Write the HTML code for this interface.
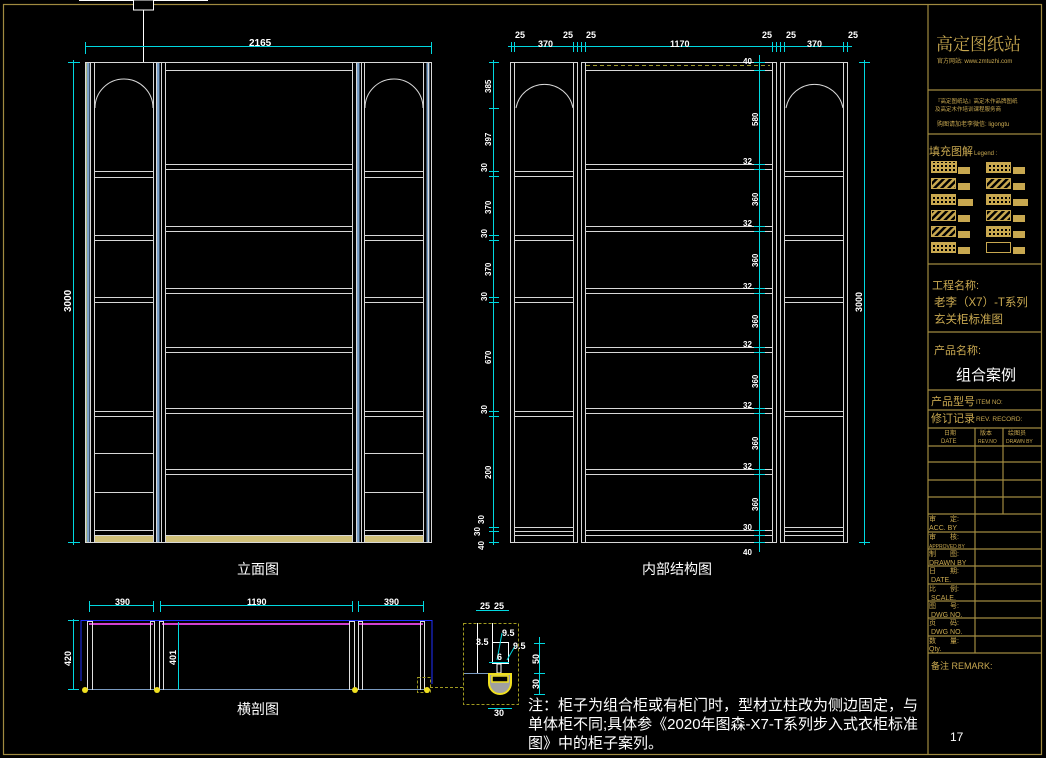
<!DOCTYPE html>
<html><head><meta charset="utf-8"><style>
html,body{margin:0;padding:0;background:#000;}
svg{display:block;}
text{font-family:"Liberation Sans","Noto Sans CJK SC",sans-serif;}
.cj{font-family:"Liberation Serif","Noto Serif CJK SC",serif;}
</style></head><body>
<svg width="1046" height="758" viewBox="0 0 1046 758" xmlns="http://www.w3.org/2000/svg">
<defs>
<pattern id="hat" width="5" height="5" patternUnits="userSpaceOnUse" patternTransform="rotate(45)"><rect width="5" height="5" fill="#000"/><rect width="2.5" height="5" fill="#c8a850"/></pattern>
<pattern id="dot" width="4" height="4" patternUnits="userSpaceOnUse"><rect width="4" height="4" fill="#c8a850"/><rect x="1" y="1" width="2" height="2" fill="#000"/></pattern>
</defs>
<rect width="1046" height="758" fill="#000"/>
<g stroke="#a08a40" stroke-width="1.2" fill="none">
<rect x="3.5" y="4.5" width="1038" height="750"/>
<line x1="928" y1="4" x2="928" y2="755"/>
<line x1="928" y1="90" x2="1042" y2="90"/>
<line x1="928" y1="134" x2="1042" y2="134"/>
<line x1="928" y1="264" x2="1042" y2="264"/>
<line x1="928" y1="332" x2="1042" y2="332"/>
<line x1="928" y1="390" x2="1042" y2="390"/>
<line x1="928" y1="410" x2="1042" y2="410"/>
<line x1="928" y1="428" x2="1042" y2="428"/>
<line x1="928" y1="446" x2="1042" y2="446"/>
<line x1="928" y1="462" x2="1042" y2="462"/>
<line x1="928" y1="480" x2="1042" y2="480"/>
<line x1="928" y1="497" x2="1042" y2="497"/>
<line x1="928" y1="514" x2="1042" y2="514"/>
<line x1="928" y1="532" x2="1042" y2="532"/>
<line x1="928" y1="549" x2="1042" y2="549"/>
<line x1="928" y1="566" x2="1042" y2="566"/>
<line x1="928" y1="584" x2="1042" y2="584"/>
<line x1="928" y1="601" x2="1042" y2="601"/>
<line x1="928" y1="618" x2="1042" y2="618"/>
<line x1="928" y1="636" x2="1042" y2="636"/>
<line x1="928" y1="653" x2="1042" y2="653"/>
<line x1="975" y1="428" x2="975" y2="653"/>
<line x1="1003" y1="428" x2="1003" y2="514"/>
</g>
<g fill="#c8a850" class="cj">
<text x="936" y="50" font-size="17" class="cj">高定图纸站</text>
<text x="937" y="63" font-size="6">官方网站: www.zmtuzhi.com</text>
<text x="935" y="103" font-size="5.5">『高定图纸站』高定木作品牌图纸</text>
<text x="935" y="111" font-size="5.5">及高定木作培训课程服务商</text>
<text x="937" y="126" font-size="6">购图请加老李微信: ligongtu</text>
<text x="929" y="155" font-size="11">填充图解</text><text x="974" y="155" font-size="6">Legend :</text>
<text x="932" y="289" font-size="11">工程名称:</text>
<text x="934" y="306" font-size="11.5">老李（X7）-T系列</text>
<text x="934" y="323" font-size="11.5">玄关柜标准图</text>
<text x="934" y="354" font-size="11">产品名称:</text>
<text x="931" y="405" font-size="11">产品型号</text><text x="976" y="404" font-size="6">ITEM NO:</text>
<text x="931" y="422" font-size="11">修订记录</text><text x="976" y="421" font-size="6.5">REV. RECORD:</text>
<text x="944" y="435" font-size="6">日期</text><text x="941" y="443" font-size="6">DATE</text>
<text x="980" y="435" font-size="6">版本</text><text x="978" y="443" font-size="5">REV.NO</text>
<text x="1008" y="435" font-size="6">绘图员</text><text x="1006" y="443" font-size="5">DRAWN BY</text>
<g font-size="7">
<text x="929" y="521">审　　定:</text><text x="929" y="530">ACC. BY</text>
<text x="929" y="539">审　　核:</text><text x="929" y="548" font-size="5">APPROVED BY</text>
<text x="929" y="556">制　　图:</text><text x="929" y="565">DRAWN BY</text>
<text x="929" y="573">日　　期:</text><text x="931" y="582">DATE.</text>
<text x="929" y="591">比　　例:</text><text x="931" y="600">SCALE.</text>
<text x="929" y="608">图　　号:</text><text x="931" y="617">DWG  NO.</text>
<text x="929" y="625">页　　码:</text><text x="931" y="634">DWG  NO.</text>
<text x="929" y="643">数　　量:</text><text x="929" y="651">Qty.</text>
</g>
<text x="931" y="669" font-size="9">备注 REMARK:</text>
</g>
<text x="956" y="380" font-size="15" fill="#fff">组合案例</text>
<text x="950" y="741" font-size="12" fill="#fff">17</text>
<g stroke="#c8a850" stroke-width="1">
<rect x="931.5" y="161.5" width="25" height="11" fill="url(#dot)"/>
<rect x="931.5" y="178.5" width="24" height="10" fill="url(#hat)"/>
<rect x="931.5" y="194.5" width="24" height="10" fill="url(#dot)"/>
<rect x="931.5" y="210.5" width="24" height="10" fill="url(#hat)"/>
<rect x="931.5" y="226.5" width="24" height="10" fill="url(#hat)"/>
<rect x="931.5" y="242.5" width="24" height="10" fill="url(#dot)"/>
<rect x="986.5" y="162.5" width="24" height="10" fill="url(#dot)"/>
<rect x="986.5" y="178.5" width="24" height="10" fill="url(#hat)"/>
<rect x="986.5" y="194.5" width="24" height="10" fill="url(#dot)"/>
<rect x="986.5" y="210.5" width="24" height="10" fill="url(#hat)"/>
<rect x="986.5" y="226.5" width="24" height="10" fill="url(#dot)"/>
<rect x="986.5" y="242.5" width="24" height="10" fill="#000"/>
</g>
<g fill="#c8a850">
<rect x="958" y="167" width="12" height="7"/><rect x="958" y="183" width="12" height="7"/><rect x="958" y="199" width="15" height="7"/><rect x="958" y="215" width="12" height="7"/><rect x="958" y="231" width="12" height="7"/><rect x="958" y="247" width="12" height="7"/>
<rect x="1013" y="167" width="12" height="7"/><rect x="1013" y="183" width="12" height="7"/><rect x="1013" y="199" width="15" height="7"/><rect x="1013" y="215" width="12" height="7"/><rect x="1013" y="231" width="12" height="7"/><rect x="1013" y="247" width="12" height="7"/>
</g>

<g stroke="#fff" stroke-width="1" fill="none">
<line x1="79" y1="0.5" x2="208" y2="0.5"/>
<rect x="133.5" y="0" width="20" height="10" fill="#000"/>
<line x1="143.5" y1="10" x2="143.5" y2="63"/>
</g>

<g stroke="#7aa0c8" stroke-width="3"><line x1="88" y1="62" x2="88" y2="542"/><line x1="428" y1="62" x2="428" y2="542"/><line x1="158" y1="62" x2="158" y2="542"/><line x1="358" y1="62" x2="358" y2="542"/></g>
<line x1="86" y1="62" x2="86" y2="542" stroke="#d8d040"/>
<g fill="#d0c078"><rect x="95" y="535" width="58" height="7"/><rect x="166" y="535" width="186" height="7"/><rect x="365" y="535" width="58" height="7"/></g>
<g stroke="#d8d8d8" stroke-width="1" fill="none">
<line x1="85" y1="62.5" x2="432" y2="62.5"/>
<line x1="85" y1="542.5" x2="432" y2="542.5"/>
<line x1="85.5" y1="62" x2="85.5" y2="542"/><line x1="90.5" y1="62" x2="90.5" y2="542"/><line x1="94.5" y1="62" x2="94.5" y2="542"/>
<line x1="153.5" y1="62" x2="153.5" y2="542"/><line x1="156.5" y1="62" x2="156.5" y2="542"/><line x1="161.5" y1="62" x2="161.5" y2="542"/><line x1="165.5" y1="62" x2="165.5" y2="542"/>
<line x1="352.5" y1="62" x2="352.5" y2="542"/><line x1="356.5" y1="62" x2="356.5" y2="542"/><line x1="361.5" y1="62" x2="361.5" y2="542"/><line x1="364.5" y1="62" x2="364.5" y2="542"/>
<line x1="423.5" y1="62" x2="423.5" y2="542"/><line x1="428.5" y1="62" x2="428.5" y2="542"/><line x1="431.5" y1="62" x2="431.5" y2="542"/>
<path d="M95,108 A29,29 0 0 1 153,108"/><path d="M365,108 A29,29 0 0 1 423,108"/>
<line x1="165" y1="70.5" x2="352" y2="70.5"/>
<g id="cs">
<line x1="165" y1="164.5" x2="352" y2="164.5"/><line x1="165" y1="169.5" x2="352" y2="169.5"/>
<line x1="165" y1="226.5" x2="352" y2="226.5"/><line x1="165" y1="231.5" x2="352" y2="231.5"/>
<line x1="165" y1="288.5" x2="352" y2="288.5"/><line x1="165" y1="293.5" x2="352" y2="293.5"/>
<line x1="165" y1="347.5" x2="352" y2="347.5"/><line x1="165" y1="352.5" x2="352" y2="352.5"/>
<line x1="165" y1="408.5" x2="352" y2="408.5"/><line x1="165" y1="413.5" x2="352" y2="413.5"/>
<line x1="165" y1="469.5" x2="352" y2="469.5"/><line x1="165" y1="474.5" x2="352" y2="474.5"/>
<line x1="165" y1="535.5" x2="352" y2="535.5"/>
</g>
<g id="ls">
<line x1="94" y1="171.5" x2="153" y2="171.5"/><line x1="94" y1="177.5" x2="153" y2="177.5"/>
<line x1="94" y1="235.5" x2="153" y2="235.5"/><line x1="94" y1="240.5" x2="153" y2="240.5"/>
<line x1="94" y1="297.5" x2="153" y2="297.5"/><line x1="94" y1="302.5" x2="153" y2="302.5"/>
<line x1="94" y1="411.5" x2="153" y2="411.5"/><line x1="94" y1="416.5" x2="153" y2="416.5"/>
<line x1="94" y1="453.5" x2="153" y2="453.5"/>
<line x1="94" y1="492.5" x2="153" y2="492.5"/>
<line x1="94" y1="530.5" x2="153" y2="530.5"/><line x1="94" y1="535.5" x2="153" y2="535.5"/>
</g>
<use href="#ls" transform="translate(270,0)"/>
</g>
<g stroke="#00d8e0" stroke-width="1">
<line x1="85" y1="46.5" x2="432" y2="46.5"/><line x1="85.5" y1="42" x2="85.5" y2="54"/><line x1="431.5" y1="42" x2="431.5" y2="54"/>
<line x1="73.5" y1="60" x2="73.5" y2="545"/><line x1="68" y1="62.5" x2="80" y2="62.5"/><line x1="68" y1="542.5" x2="80" y2="542.5"/>
</g>
<g fill="#fff" font-size="10" font-weight="bold">
<text x="249" y="46">2165</text>
<text transform="translate(71,312) rotate(-90)">3000</text>
</g>
<g fill="#fff" font-size="14">
<text x="237" y="574">立面图</text>
<text x="642" y="574">内部结构图</text>
<text x="237" y="714">横剖图</text>
</g>

<g stroke="#d8d8d8" stroke-width="1" fill="none">
<rect x="510.5" y="62.5" width="67" height="480"/><line x1="514.5" y1="62" x2="514.5" y2="542"/><line x1="573.5" y1="62" x2="573.5" y2="542"/>
<rect x="581.5" y="62.5" width="195" height="480"/><line x1="585.5" y1="62" x2="585.5" y2="542"/><line x1="772.5" y1="62" x2="772.5" y2="542"/>
<rect x="780.5" y="62.5" width="67" height="480"/><line x1="784.5" y1="62" x2="784.5" y2="542"/><line x1="843.5" y1="62" x2="843.5" y2="542"/>
<path d="M516,108 A29,29 0 0 1 573,108"/><path d="M786,108 A29,29 0 0 1 843,108"/>
<line x1="585" y1="70.5" x2="772" y2="70.5"/>
<g transform="translate(420,0)"><use href="#cs"/></g>
<g transform="translate(420,0)"><line x1="165" y1="530.5" x2="352" y2="530.5"/></g>
<g id="il">
<line x1="514" y1="171.5" x2="573" y2="171.5"/><line x1="514" y1="176.5" x2="573" y2="176.5"/>
<line x1="514" y1="235.5" x2="573" y2="235.5"/><line x1="514" y1="240.5" x2="573" y2="240.5"/>
<line x1="514" y1="297.5" x2="573" y2="297.5"/><line x1="514" y1="302.5" x2="573" y2="302.5"/>
<line x1="514" y1="411.5" x2="573" y2="411.5"/><line x1="514" y1="416.5" x2="573" y2="416.5"/>
<line x1="514" y1="527.5" x2="573" y2="527.5"/><line x1="514" y1="531.5" x2="573" y2="531.5"/><line x1="514" y1="535.5" x2="573" y2="535.5"/>
</g>
<use href="#il" transform="translate(270,0)"/>
</g>
<line x1="586" y1="65.5" x2="770" y2="65.5" stroke="#a09a30" stroke-dasharray="4,3"/>
<g stroke="#00d8e0" stroke-width="1">
<line x1="508" y1="46.5" x2="852" y2="46.5"/>
<line x1="493.5" y1="60" x2="493.5" y2="545"/>
<line x1="759.5" y1="55" x2="759.5" y2="552"/>
<line x1="864.5" y1="60" x2="864.5" y2="545"/>
<g><line x1="489" y1="62.5" x2="499" y2="62.5"/><line x1="489" y1="108.5" x2="499" y2="108.5"/><line x1="489" y1="171.5" x2="499" y2="171.5"/><line x1="489" y1="176.5" x2="499" y2="176.5"/><line x1="489" y1="235.5" x2="499" y2="235.5"/><line x1="489" y1="240.5" x2="499" y2="240.5"/><line x1="489" y1="297.5" x2="499" y2="297.5"/><line x1="489" y1="302.5" x2="499" y2="302.5"/><line x1="489" y1="411.5" x2="499" y2="411.5"/><line x1="489" y1="416.5" x2="499" y2="416.5"/><line x1="489" y1="527.5" x2="499" y2="527.5"/><line x1="489" y1="531.5" x2="499" y2="531.5"/><line x1="489" y1="542.5" x2="499" y2="542.5"/></g>
<line x1="754" y1="62.5" x2="765" y2="62.5"/><line x1="754" y1="70.5" x2="765" y2="70.5"/>
<line x1="754" y1="164.5" x2="765" y2="164.5"/><line x1="754" y1="169.5" x2="765" y2="169.5"/>
<line x1="754" y1="226.5" x2="765" y2="226.5"/><line x1="754" y1="231.5" x2="765" y2="231.5"/>
<line x1="754" y1="288.5" x2="765" y2="288.5"/><line x1="754" y1="293.5" x2="765" y2="293.5"/>
<line x1="754" y1="347.5" x2="765" y2="347.5"/><line x1="754" y1="352.5" x2="765" y2="352.5"/>
<line x1="754" y1="408.5" x2="765" y2="408.5"/><line x1="754" y1="413.5" x2="765" y2="413.5"/>
<line x1="754" y1="469.5" x2="765" y2="469.5"/><line x1="754" y1="474.5" x2="765" y2="474.5"/>
<line x1="754" y1="530.5" x2="765" y2="530.5"/><line x1="754" y1="535.5" x2="765" y2="535.5"/><line x1="754" y1="542.5" x2="765" y2="542.5"/>
<line x1="859" y1="62.5" x2="870" y2="62.5"/><line x1="859" y1="542.5" x2="870" y2="542.5"/>
<g><line x1="511.5" y1="42" x2="511.5" y2="52"/><line x1="514.5" y1="42" x2="514.5" y2="52"/><line x1="573.5" y1="42" x2="573.5" y2="52"/><line x1="577.5" y1="42" x2="577.5" y2="52"/><line x1="581.5" y1="42" x2="581.5" y2="52"/><line x1="585.5" y1="42" x2="585.5" y2="52"/><line x1="772.5" y1="42" x2="772.5" y2="52"/><line x1="776.5" y1="42" x2="776.5" y2="52"/><line x1="780.5" y1="42" x2="780.5" y2="52"/><line x1="784.5" y1="42" x2="784.5" y2="52"/><line x1="843.5" y1="42" x2="843.5" y2="52"/><line x1="847.5" y1="42" x2="847.5" y2="52"/></g>
</g>
<g fill="#fff" font-size="9" font-weight="bold">
<text x="515" y="38">25</text><text x="538" y="47">370</text><text x="563" y="38">25</text><text x="586" y="38">25</text><text x="670" y="47">1170</text><text x="762" y="38">25</text><text x="786" y="38">25</text><text x="807" y="47">370</text><text x="848" y="38">25</text>
<g font-size="8">
<text transform="translate(491,93) rotate(-90)">385</text>
<text transform="translate(491,146) rotate(-90)">397</text>
<text transform="translate(487,172) rotate(-90)">30</text>
<text transform="translate(491,214) rotate(-90)">370</text>
<text transform="translate(487,238) rotate(-90)">30</text>
<text transform="translate(491,276) rotate(-90)">370</text>
<text transform="translate(487,301) rotate(-90)">30</text>
<text transform="translate(491,364) rotate(-90)">670</text>
<text transform="translate(487,414) rotate(-90)">30</text>
<text transform="translate(491,479) rotate(-90)">200</text>
<text transform="translate(484,524) rotate(-90)">30</text>
<text transform="translate(480,536) rotate(-90)">30</text>
<text transform="translate(484,550) rotate(-90)">40</text>
<text x="743" y="64">40</text>
<text transform="translate(758,126) rotate(-90)">580</text>
<text x="743" y="164">32</text><text transform="translate(758,206) rotate(-90)">360</text>
<text x="743" y="226">32</text><text transform="translate(758,267) rotate(-90)">360</text>
<text x="743" y="289">32</text><text transform="translate(758,328) rotate(-90)">360</text>
<text x="743" y="347">32</text><text transform="translate(758,388) rotate(-90)">360</text>
<text x="743" y="408">32</text><text transform="translate(758,450) rotate(-90)">360</text>
<text x="743" y="469">32</text><text transform="translate(758,511) rotate(-90)">360</text>
<text x="743" y="530">30</text><text x="743" y="555">40</text>
</g>
<text transform="translate(862,312) rotate(-90)">3000</text>
</g>

<g fill="none" stroke-width="1">
<path d="M81,681 V620.5 H432 V684" stroke="#2030ff"/>
<line x1="85" y1="689.5" x2="430" y2="689.5" stroke="#7a9ac0"/>
<g stroke="#d040d0" stroke-width="2"><line x1="89" y1="624" x2="153" y2="624"/><line x1="162" y1="624" x2="349" y2="624"/><line x1="359" y1="624" x2="423" y2="624"/></g>
<g stroke="#e0e0e0">
<path d="M87.5,690 V621.5 H92.5 V690"/><path d="M150.5,690 V621.5 H154.5 V690"/><path d="M159.5,690 V621.5 H163.5 V690"/><path d="M349.5,690 V621.5 H354.5 V690"/><path d="M358.5,690 V621.5 H362.5 V690"/><path d="M420.5,690 V621.5 H424.5 V690"/>
</g>
<g stroke="#00d8e0"><line x1="89" y1="605.5" x2="153" y2="605.5"/><line x1="160" y1="605.5" x2="352" y2="605.5"/><line x1="358" y1="605.5" x2="423" y2="605.5"/>
<line x1="73.5" y1="619" x2="73.5" y2="690"/><line x1="178.5" y1="622" x2="178.5" y2="690"/>
<line x1="89.5" y1="601" x2="89.5" y2="612"/><line x1="153.5" y1="601" x2="153.5" y2="612"/><line x1="160.5" y1="601" x2="160.5" y2="612"/><line x1="352.5" y1="601" x2="352.5" y2="612"/><line x1="358.5" y1="601" x2="358.5" y2="612"/><line x1="423.5" y1="601" x2="423.5" y2="612"/>
<line x1="68" y1="620.5" x2="79" y2="620.5"/><line x1="68" y1="689.5" x2="79" y2="689.5"/>
</g>
<g stroke="#a09a20" stroke-dasharray="3,2"><rect x="417.5" y="677.5" width="13" height="15"/><line x1="430" y1="687.5" x2="464" y2="687.5"/><rect x="463.5" y="623.5" width="55" height="81"/></g>
<line x1="464" y1="673.5" x2="490" y2="673.5" stroke="#7a9ac0"/>
<g stroke="#fff"><line x1="477.5" y1="623" x2="477.5" y2="673"/><line x1="492.5" y1="623" x2="492.5" y2="643"/><rect x="492.5" y="642.5" width="16" height="21"/><rect x="497" y="664" width="4" height="9"/></g>
<path d="M489,674 H511 V683 A11,11 0 0 1 489,683 Z" fill="#a0a0a0" stroke="#f0e020" stroke-width="2"/>
<rect x="492" y="676" width="16" height="6" fill="#000" stroke="#f0e020" stroke-width="1.5"/>
<g stroke="#00d8e0"><line x1="476" y1="610.5" x2="509" y2="610.5"/><line x1="539.5" y1="637" x2="539.5" y2="694"/><line x1="534" y1="643.5" x2="545" y2="643.5"/><line x1="534" y1="673.5" x2="545" y2="673.5"/><line x1="534" y1="694.5" x2="545" y2="694.5"/><line x1="488" y1="708.5" x2="512" y2="708.5"/><line x1="489" y1="662.5" x2="509" y2="662.5"/><line x1="502" y1="633" x2="497" y2="660"/><line x1="515" y1="646" x2="507" y2="660"/></g>
</g>
<g fill="#f0e020"><circle cx="85" cy="690" r="3"/><circle cx="157" cy="690" r="3"/><circle cx="355" cy="690" r="3"/><circle cx="427" cy="690" r="3"/></g>
<g fill="#fff" font-size="9" font-weight="bold">
<text x="115" y="605">390</text><text x="247" y="605">1190</text><text x="384" y="605">390</text>
<text transform="translate(71,666) rotate(-90)">420</text><text transform="translate(176,665) rotate(-90)">401</text>
<text x="480" y="609">25</text><text x="494" y="609">25</text>
<text x="476" y="645">3.5</text><text x="502" y="636">9.5</text><text x="513" y="649">9.5</text><text x="497" y="660">6</text>
<text transform="translate(539,664) rotate(-90)">50</text><text transform="translate(539,689) rotate(-90)">30</text>
<text x="494" y="716">30</text>
</g>
<g fill="#fff" font-size="15">
<text x="528" y="710">注：柜子为组合柜或有柜门时，型材立柱改为侧边固定，与</text>
<text x="528" y="729">单体柜不同;具体参《2020年图森-X7-T系列步入式衣柜标准</text>
<text x="528" y="748">图》中的柜子案列。</text>
</g>
</svg>
</body></html>
